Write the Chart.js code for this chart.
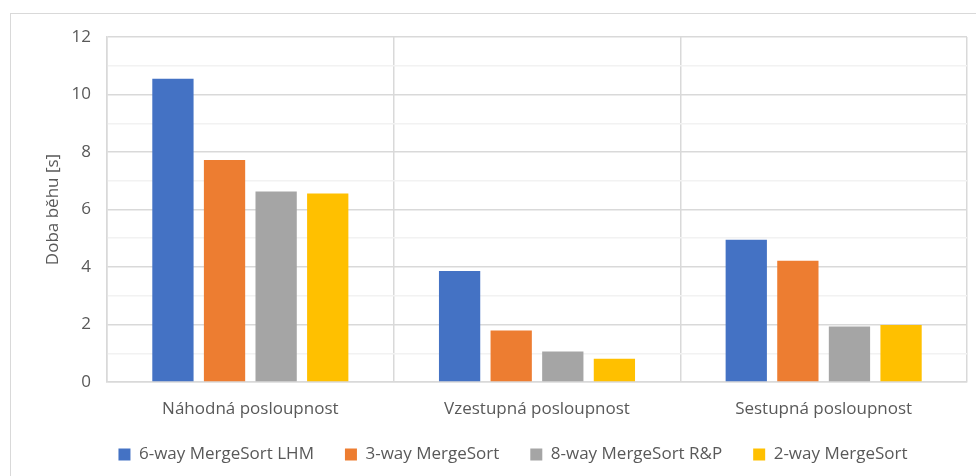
<!DOCTYPE html>
<html>
<head>
<meta charset="utf-8">
<script src="https://cdn.jsdelivr.net/npm/chart.js@4/dist/chart.umd.min.js"></script>
<style>
  html, body { margin: 0; padding: 0; background: #fff; }
  #frame {
    position: absolute; left: 10px; top: 13px;
    width: 990px; height: 490px;
    border: 1px solid #d9d9d9;
  }
  #wrap { position: absolute; left: 0; top: 0; width: 976px; height: 476px; }
</style>
</head>
<body>
<div id="frame"></div>
<div id="wrap"><canvas id="chart"></canvas></div>
<script>
// sequence types on the x axis
const categories = [`Náhodná posloupnost`, `Vzestupná posloupnost`, `Sestupná posloupnost`];

// running times in seconds, one array per algorithm
const sixWayLhm = [10.55, 3.86, 4.95];
const threeWay = [7.72, 1.79, 4.22];
const eightWayRp = [6.63, 1.06, 1.93];
const twoWay = [6.56, 0.81, 1.98];

const yTicks = [0, 2, 4, 6, 8, 10, 12];

const textColor = `#595959`;
const fontFamily = `"Segoe UI", "Open Sans", "Noto Sans", sans-serif`;

// the legend padding is also used vertically: pin its height
// and move the row into place
const legendHeight = {
    id: `legendHeight`,
    beforeInit(chart) {
        const legend = chart.legend;
        const fit = legend.fit;
        legend.fit = function () {
            fit.call(this);
            this.height = 50;
        };
    },
    afterLayout(chart) {
        const legend = chart.legend;
        legend.top -= 11;
        legend.bottom -= 11;
        legend.left += 12;
        legend.right += 12;
    },
};

const ctx = document.getElementById(`chart`);

new Chart(ctx, {
    type: `bar`,
    data: {
        labels: categories,
        datasets: [
            { label: `6-way MergeSort LHM`, data: sixWayLhm, backgroundColor: `#4472c4` },
            { label: `3-way MergeSort`, data: threeWay, backgroundColor: `#ed7d31` },
            { label: `8-way MergeSort R&P`, data: eightWayRp, backgroundColor: `#a5a5a5` },
            { label: `2-way MergeSort`, data: twoWay, backgroundColor: `#ffc000` },
        ],
    },
    plugins: [legendHeight],
    options: {
        responsive: true,
        maintainAspectRatio: false,
        animation: false,
        categoryPercentage: 0.72,
        barPercentage: 0.8,
        layout: { padding: { top: 37, right: 9, left: 35, bottom: 0 } },
        plugins: {
            tooltip: { enabled: false },
            legend: {
                position: `bottom`,
                labels: {
                    boxWidth: 12,
                    boxHeight: 12,
                    padding: 31,
                    color: textColor,
                    font: { family: fontFamily, size: 17 },
                },
            },
        },
        scales: {
            x: {
                grid: { color: `#d9d9d9`, lineWidth: 1.5, offset: true, drawTicks: false },
                border: { color: `#d9d9d9`, width: 1.5 },
                ticks: {
                    color: textColor,
                    padding: 17,
                    font: { family: fontFamily, size: 17 },
                },
                afterFit: scale => { scale.height = 44; },
            },
            y: {
                min: 0,
                max: 12,
                ticks: {
                    stepSize: 1,
                    color: textColor,
                    padding: 16,
                    font: { family: fontFamily, size: 17 },
                    // minor gridlines at odd values carry no label
                    callback: value => (yTicks.includes(value) ? String(value) : ``),
                },
                grid: {
                    drawTicks: false,
                    lineWidth: 1.5,
                    color: c => (c.tick && c.tick.value % 2 === 0 ? `#d9d9d9` : `#f2f2f2`),
                },
                border: { color: `#d9d9d9`, width: 1.5 },
                title: {
                    display: true,
                    text: `Doba běhu [s]`,
                    color: textColor,
                    font: { family: fontFamily, size: 17 },
                    padding: { top: 8, bottom: 0 },
                },
                afterFit: scale => { scale.width = 72; },
            },
        },
    },
});
</script>
</body>
</html>
